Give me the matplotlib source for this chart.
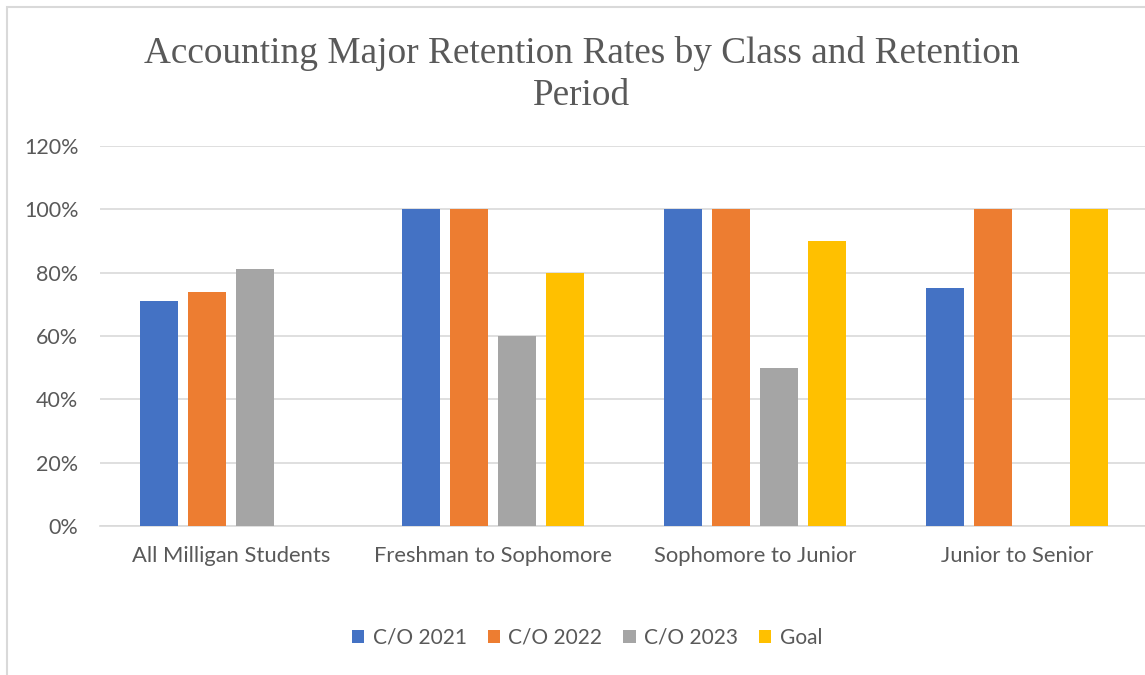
import matplotlib
matplotlib.use("Agg")
import matplotlib.pyplot as plt
import numpy as np
from matplotlib.patches import Rectangle

categories = ["All Milligan Students", "Freshman to Sophomore",
              "Sophomore to Junior", "Junior to Senior"]
series_names = ["C/O 2021", "C/O 2022", "C/O 2023", "Goal"]
co2021 = [0.71, 1.00, 1.00, 0.75]
co2022 = [0.74, 1.00, 1.00, 1.00]
co2023 = [0.81, 0.60, 0.50, np.nan]
goal = [np.nan, 0.80, 0.90, 1.00]
colors = ["#4472C4", "#ED7D31", "#A5A5A5", "#FFC000"]
yticks = [0, 0.2, 0.4, 0.6, 0.8, 1.0, 1.2]

text_color = "#595959"
plt.rcParams['font.family'] = ['Lato', 'DejaVu Sans']

W, H = 1145, 675
fig = plt.figure(figsize=(W / 100, H / 100), dpi=100)
ax = fig.add_axes([100 / W, 1 - 526 / H, 1048 / W, 380 / H])

# chart border (cropped on right/bottom like the source)
fig.patches.append(Rectangle((7 / W, -0.05), 1.2, 1 - 7 / H + 0.05,
                             transform=fig.transFigure, fill=False,
                             edgecolor="#d9d9d9", linewidth=1.5))

x = np.arange(len(categories))
offsets = [-0.275, -0.0916, 0.0916, 0.275]
for vals, name, col, off in zip([co2021, co2022, co2023, goal],
                                series_names, colors, offsets):
    ax.bar(x + off, vals, width=0.145, color=col, label=name, zorder=3)

ax.set_xlim(-0.5, 3.5)
ax.set_ylim(0, 1.2)
ax.set_yticks(yticks)
ax.set_yticklabels([f"{int(round(v * 100))}%" for v in yticks])
ax.set_xticks(x)
ax.set_xticklabels(categories)
ax.tick_params(axis="both", length=0, labelsize=15.5, colors=text_color)
ax.tick_params(axis="y", pad=15.5)
ax.tick_params(axis="x", pad=14.5, labelsize=15.8)
ax.grid(axis="y", color="#d9d9d9", linewidth=1.2, zorder=0)
for s in ["top", "right", "left"]:
    ax.spines[s].set_visible(False)
ax.spines["bottom"].set_color("#d9d9d9")
ax.spines["bottom"].set_linewidth(1.2)

fig.text(582 / W, 1 - 74.5 / H, "Accounting Major Retention Rates by Class and Retention\nPeriod",
         ha="center", va="center", fontsize=26.8, color=text_color,
         family="Liberation Serif", linespacing=1.32)

fig.legend(loc="center", bbox_to_anchor=(587 / W, 1 - 638 / H), ncol=4,
           frameon=False, fontsize=15, labelcolor=text_color,
           handlelength=0.6, handleheight=0.6, handletextpad=0.4,
           columnspacing=1.0)

fig.savefig("out.png", dpi=100)
